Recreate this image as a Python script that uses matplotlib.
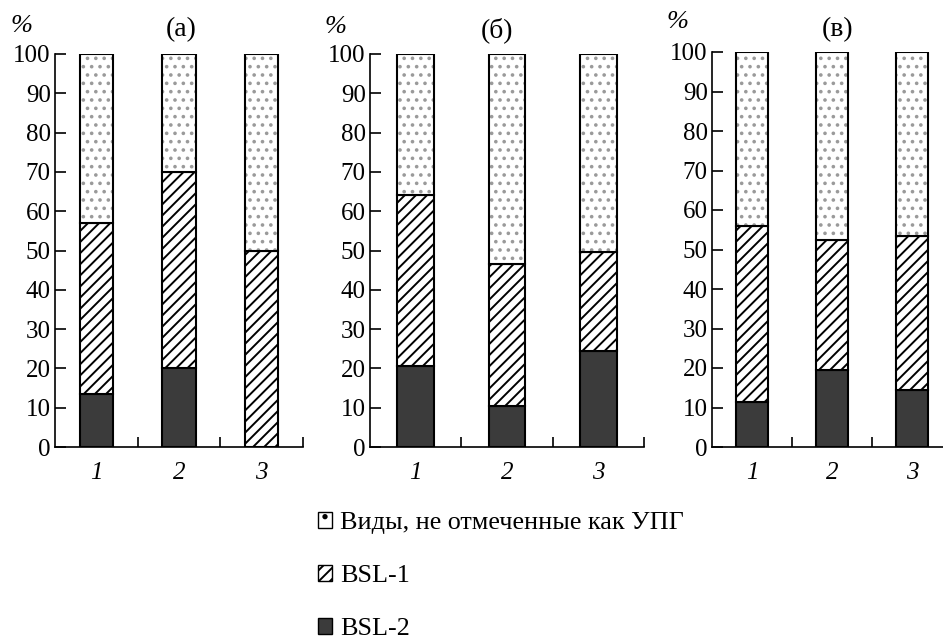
import matplotlib
matplotlib.use('Agg')
import matplotlib.pyplot as plt
from matplotlib.patches import Patch

# Data: share of species (%) per group, three panels
categories = ['1', '2', '3']
panel_titles = ['(a)', '(б)', '(в)']

bsl2 = {
    '(a)': [13.5, 20.0, 0.0],
    '(б)': [20.5, 10.5, 24.5],
    '(в)': [11.5, 19.5, 14.5],
}
bsl1 = {
    '(a)': [43.5, 50.0, 50.0],
    '(б)': [43.5, 36.0, 25.0],
    '(в)': [44.5, 33.0, 39.0],
}
not_marked = {
    '(a)': [43.0, 30.0, 50.0],
    '(б)': [36.0, 53.5, 50.5],
    '(в)': [44.0, 47.5, 46.5],
}

legend_labels = ['Виды, не отмеченные как УПГ', 'BSL-1', 'BSL-2']

plt.rcParams['font.family'] = ['Liberation Serif', 'DejaVu Serif']
plt.rcParams['hatch.linewidth'] = 1.4

W, H = 943, 639
fig = plt.figure(figsize=(W / 100, H / 100), dpi=100)

# axes rectangles in pixels: left, right, top, bottom
boxes = [(55, 303, 54, 447), (370, 644, 54, 447), (712, 952, 52, 447)]
pct_pos = [(21, 26), (336, 27), (678, 22)]
title_pos = [(181, 30), (497, 30), (838, 30)]

dark = '#3b3b3b'
for i, key in enumerate(panel_titles):
    l, r, t, b = boxes[i]
    ax = fig.add_axes([l / W, 1 - b / H, (r - l) / W, (b - t) / H])
    x = [k + 0.5 for k in range(len(categories))]
    lo = bsl2[key]
    mid = [a + c for a, c in zip(bsl2[key], bsl1[key])]
    ax.bar(x, bsl2[key], width=0.4, color=dark, edgecolor='black', linewidth=1.5)
    ax.bar(x, bsl1[key], width=0.4, bottom=lo, color='white', edgecolor='black',
           linewidth=1.5, hatch='///')
    ax.bar(x, not_marked[key], width=0.4, bottom=mid, color='white',
           edgecolor='#9a9a9a', linewidth=0, hatch='..')
    # outline for the dotted segment
    ax.bar(x, not_marked[key], width=0.4, bottom=mid, fill=False,
           edgecolor='black', linewidth=1.5)

    ax.set_xlim(0, 3)
    ax.set_ylim(0, 100)
    ax.set_yticks(range(0, 101, 10))
    ax.set_xticks([1, 2, 3])
    ax.set_xticklabels([])
    ax.set_xticks(x, minor=True)
    ax.set_xticklabels(categories, minor=True, fontstyle='italic', fontsize=18)
    ax.tick_params(axis='x', which='minor', length=0, pad=11)
    ax.tick_params(axis='x', which='major', direction='in', length=7, width=1.2)
    ax.tick_params(axis='y', direction='in', length=8, width=1.2, pad=3, labelsize=18)
    for s in ['top', 'right']:
        ax.spines[s].set_visible(False)
    for s in ['left', 'bottom']:
        ax.spines[s].set_linewidth(1.2)

    px, py = pct_pos[i]
    fig.text(px / W, 1 - py / H, '%', fontstyle='italic', fontsize=19,
             ha='center', va='center')
    tx, ty = title_pos[i]
    fig.text(tx / W, 1 - ty / H, key, fontsize=20, ha='center', va='center')

handles = [
    Patch(facecolor='white', edgecolor='black', hatch='.', linewidth=1.0),
    Patch(facecolor='white', edgecolor='black', hatch='///', linewidth=1.0),
    Patch(facecolor=dark, edgecolor='black', linewidth=1.0),
]
fig.legend(handles, legend_labels, loc='upper left',
           bbox_to_anchor=(318 / W, 1 - 512 / H), frameon=False,
           fontsize=18.8, handlelength=0.55, handleheight=0.55,
           handletextpad=0.3, labelspacing=1.18, borderpad=0, borderaxespad=0)

fig.savefig('out.png', dpi=100)
